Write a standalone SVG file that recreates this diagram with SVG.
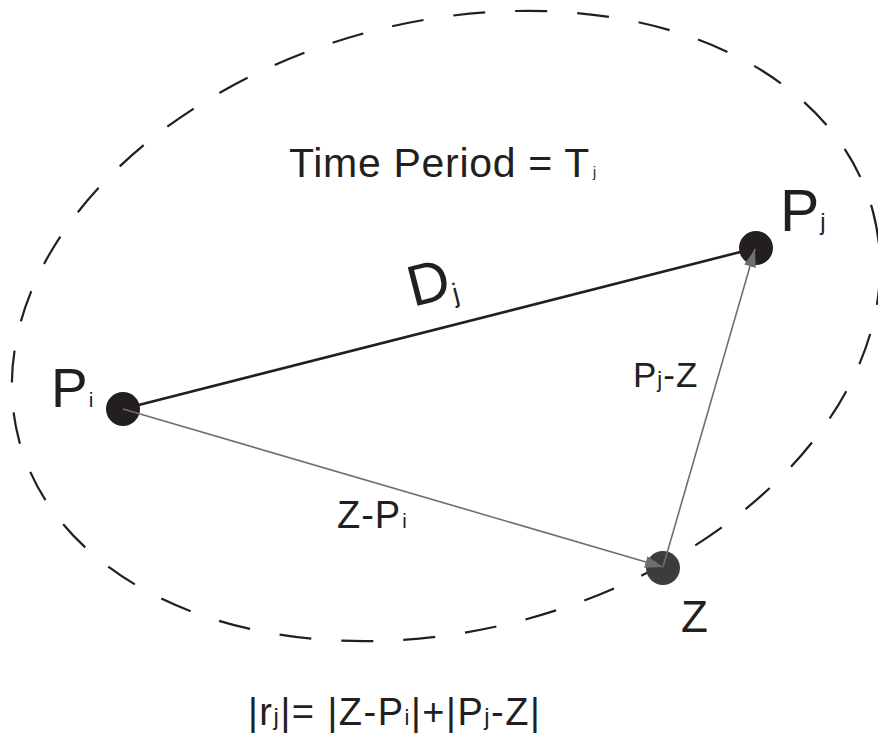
<svg xmlns="http://www.w3.org/2000/svg" width="878" height="740" viewBox="0 0 878 740">
<style>
text{font-family:"Liberation Sans",Arial,sans-serif;fill:#231f20}
.gray{stroke:#6d6e70;stroke-width:1.6;fill:none}
</style>
<defs>
<marker id="ah" markerUnits="userSpaceOnUse" markerWidth="20" markerHeight="14" refX="18" refY="6" orient="auto">
<path d="M0,0 L18,6 L0,12 z" fill="#6d6e70"/>
</marker>
</defs>
<rect width="878" height="740" fill="#fff"/>
<g id="period-boundary">
<ellipse cx="446" cy="326" rx="442" ry="304" transform="rotate(-15 446 326)" fill="none" stroke="#231f20" stroke-width="2.2" stroke-dasharray="32 30"/>
<text x="289" y="177" font-size="41" letter-spacing="0.7">Time Period = T<tspan font-size="14" dx="3" letter-spacing="0">j</tspan></text>
</g>
<g id="edge-Dj">
<line x1="123" y1="409" x2="756" y2="248" stroke="#231f20" stroke-width="2.6"/>
<text x="413" y="307" font-size="58" transform="rotate(-14.3 413 307)">D<tspan font-size="27" dy="6">j</tspan></text>
</g>
<g id="node-Pi">
<circle cx="123" cy="409" r="17" fill="#231f20"/>
<text x="51" y="407" font-size="55">P<tspan font-size="21" dx="1">i</tspan></text>
</g>
<g id="node-Pj">
<circle cx="756" cy="248" r="17" fill="#231f20"/>
<text x="780" y="231" font-size="59">P<tspan font-size="24" dx="1" dy="-1">j</tspan></text>
</g>
<g id="node-Z">
<circle cx="663" cy="568" r="17" fill="#3c3c3c"/>
<text x="681" y="632" font-size="44">Z</text>
</g>
<g id="connectors">
<line class="gray" x1="123" y1="409" x2="663" y2="567" marker-end="url(#ah)"/>
<line class="gray" x1="663" y1="567" x2="755" y2="249" marker-end="url(#ah)"/>
<text x="633" y="387" font-size="35" letter-spacing="1">P<tspan font-size="22">j</tspan>-Z</text>
<text x="337" y="528" font-size="38" letter-spacing="1">Z-P<tspan font-size="20" dx="1">i</tspan></text>
</g>
<g id="formula">
<text x="248" y="725" font-size="38" letter-spacing="1.5">|r<tspan font-size="24">j</tspan>|= |Z-P<tspan font-size="22">i</tspan>|+|P<tspan font-size="24">j</tspan>-Z|</text>
</g>
</svg>
